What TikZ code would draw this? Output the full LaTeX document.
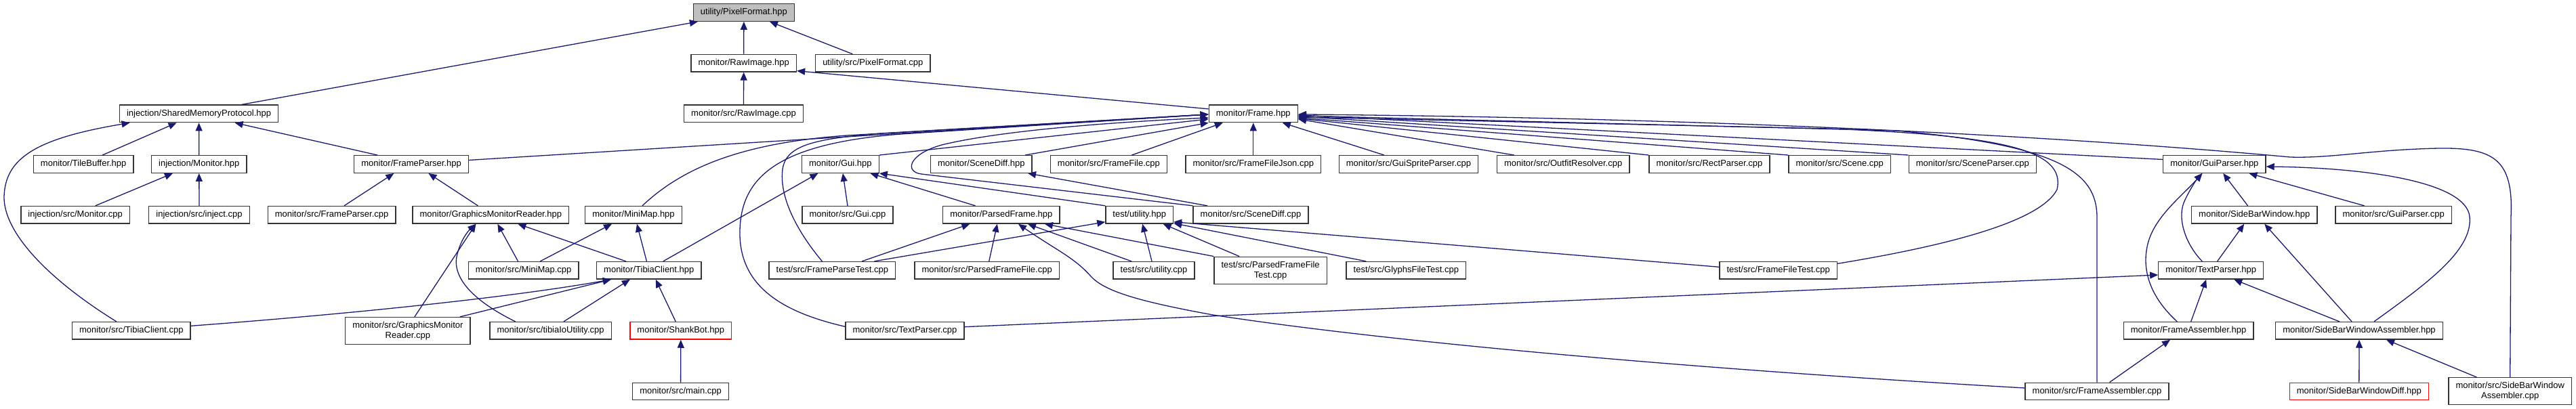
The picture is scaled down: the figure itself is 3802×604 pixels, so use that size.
\documentclass[tikz,border=0pt]{standalone}
\usepackage{fontspec}
\setmainfont{Liberation Sans}
\usetikzlibrary{arrows.meta}
\definecolor{edgeblue}{HTML}{191970}
\definecolor{rootgray}{HTML}{BFBFBF}
\begin{document}
\begin{tikzpicture}[x=1pt,y=-1pt,
  box/.style={draw=black!80, line width=1.3pt, fill=white, minimum height=25.6pt,
    inner xsep=10.6pt, inner ysep=0pt, font=\fontsize{13}{15}\selectfont, align=center},
  tall/.style={box, minimum height=40pt},
  root/.style={box, fill=rootgray},
  trunc/.style={box, draw=red},
  e/.style={draw=edgeblue, line width=1.3pt, -{Triangle[length=12pt,width=10pt]}}]
\useasboundingbox[fill=white] (0,0) rectangle (3802,604);
% row 0-2
\node[root] (pf) at (1097.9,18.5) {utility/PixelFormat.hpp};
\node[box] (raw) at (1097.7,93.2) {monitor/RawImage.hpp};
\node[box] (pfcpp) at (1288.3,93.2) {utility/src/PixelFormat.cpp};
\node[box] (smp) at (293.6,167.9) {injection/SharedMemoryProtocol.hpp};
\node[box] (rawcpp) at (1097.5,167.9) {monitor/src/RawImage.cpp};
\node[box] (frame) at (1849.8,167.9) {monitor/Frame.hpp};
% row 3
\node[box] (tile) at (123.2,242.5) {monitor/TileBuffer.hpp};
\node[box] (imon) at (293.8,242.5) {injection/Monitor.hpp};
\node[box] (fp) at (607.1,242.5) {monitor/FrameParser.hpp};
\node[box] (gui) at (1240.4,242.5) {monitor/Gui.hpp};
\node[box] (sd) at (1448.3,242.5) {monitor/SceneDiff.hpp};
\node[box] (ffcpp) at (1636.4,242.5) {monitor/src/FrameFile.cpp};
\node[box] (ffj) at (1849.8,242.5) {monitor/src/FrameFileJson.cpp};
\node[box] (gsp) at (2079,242.5) {monitor/src/GuiSpriteParser.cpp};
\node[box] (outfit) at (2307.2,242.5) {monitor/src/OutfitResolver.cpp};
\node[box] (rect) at (2523,242.5) {monitor/src/RectParser.cpp};
\node[box] (scene) at (2715.2,242.5) {monitor/src/Scene.cpp};
\node[box] (scenep) at (2911.3,242.5) {monitor/src/SceneParser.cpp};
\node[box] (guip) at (3268.4,242.5) {monitor/GuiParser.hpp};
% row 4
\node[box] (imoncpp) at (111.2,317.3) {injection/src/Monitor.cpp};
\node[box] (inject) at (294,317.3) {injection/src/inject.cpp};
\node[box] (fpcpp) at (489.6,317.3) {monitor/src/FrameParser.cpp};
\node[box] (gmr) at (724.4,317.3) {monitor/GraphicsMonitorReader.hpp};
\node[box] (mm) at (935,317.3) {monitor/MiniMap.hpp};
\node[box] (guicpp) at (1251,317.3) {monitor/src/Gui.cpp};
\node[box] (pfr) at (1477.9,317.3) {monitor/ParsedFrame.hpp};
\node[box] (tu) at (1681.7,317.3) {test/utility.hpp};
\node[box] (sdcpp) at (1846,317.3) {monitor/src/SceneDiff.cpp};
\node[box] (sbw) at (3327.2,317.3) {monitor/SideBarWindow.hpp};
\node[box] (guipcpp) at (3532.6,317.3) {monitor/src/GuiParser.cpp};
% row 5
\node[box] (mmcpp) at (772.6,399.3) {monitor/src/MiniMap.cpp};
\node[box] (tc) at (957.8,399.3) {monitor/TibiaClient.hpp};
\node[box] (fpt) at (1228.4,399.3) {test/src/FrameParseTest.cpp};
\node[box] (pffcpp) at (1456.7,399.3) {monitor/src/ParsedFrameFile.cpp};
\node[box] (tucpp) at (1703,399.3) {test/src/utility.cpp};
\node[tall] (pfft) at (1875.1,399.2) {test/src/ParsedFrameFile\\Test.cpp};
\node[box] (gft) at (2075.3,399.3) {test/src/GlyphsFileTest.cpp};
\node[box] (fft) at (2624.7,399.3) {test/src/FrameFileTest.cpp};
\node[box] (tp) at (3263.2,399.3) {monitor/TextParser.hpp};
% row 6
\node[box] (tccpp) at (193.8,488.3) {monitor/src/TibiaClient.cpp};
\node[tall] (gmrcpp) at (601.9,488.5) {monitor/src/GraphicsMonitor\\Reader.cpp};
\node[box] (tio) at (812.6,488.3) {monitor/src/tibiaIoUtility.cpp};
\node[trunc] (sb) at (1004.8,488.3) {monitor/ShankBot.hpp};
\node[box] (tpcpp) at (1335.5,488.3) {monitor/src/TextParser.cpp};
\node[box] (fa) at (3230,488.3) {monitor/FrameAssembler.hpp};
\node[box] (sbwa) at (3482,488.3) {monitor/SideBarWindowAssembler.hpp};
% row 7
\node[box] (main) at (1004.6,578) {monitor/src/main.cpp};
\node[box] (facpp) at (3095,578) {monitor/src/FrameAssembler.cpp};
\node[trunc] (sbwd) at (3481.8,578) {monitor/SideBarWindowDiff.hpp};
\node[tall] (sbwacpp) at (3704.7,577.7) {monitor/src/SideBarWindow\\Assembler.cpp};

% edges
\draw[e] ([xshift=63pt]smp.north) -- ([xshift=-68pt]pf.south);
\draw[e] (raw.north) -- (pf.south);
\draw[e] ([xshift=-30pt]pfcpp.north) -- ([xshift=38pt]pf.south);
\draw[e] (rawcpp.north) -- (raw.south);
\draw[e] ([yshift=7pt]frame.west) -- ([yshift=2pt]raw.south east);
\draw[e] ([xshift=28pt]tile.north) -- ([xshift=-33pt]smp.south);
\draw[e] (imon.north) -- (smp.south);
\draw[e] ([xshift=-50pt]fp.north) -- ([xshift=53pt]smp.south);
\draw[e] ([xshift=-22pt]tccpp.north) .. controls (75,415) and (5,345) .. (6,290)
  .. controls (8,235) and (50,205) .. ([xshift=-102pt]smp.south);
\draw[e] ([xshift=29.6pt]imoncpp.north) -- ([xshift=-38.8pt]imon.south);
\draw[e] (inject.north) -- (imon.south);
\draw[e] ([xshift=18.4pt]fpcpp.north) -- ([xshift=-25.7pt]fp.south);
\draw[e] ([xshift=-19pt]gmr.north) -- ([xshift=25.3pt]fp.south);
\draw[e] ([yshift=6pt]fp.east) -- ([yshift=-1pt]frame.west);
\draw[e] ([xshift=13pt]mm.north) .. controls (1000,255) and (1080,212) .. (1250,200) -- ([yshift=-1pt]frame.west);
\draw[e] ([yshift=6pt]tpcpp.west) .. controls (1150,460) and (1090,420) .. (1092,340)
  .. controls (1094,260) and (1150,212) .. (1330,198) -- ([yshift=-1pt]frame.west);
\draw[e] ([xshift=-15pt]fpt.north) .. controls (1175,340) and (1150,290) .. (1155,250)
  .. controls (1160,215) and (1200,205) .. (1300,197) -- ([yshift=-1pt]frame.west);
\draw[e] (gui.north east) -- ([yshift=-8pt]frame.west);
\draw[e] (sdcpp.north west) -- (1360,257) .. controls (1335,254) and (1340,228) .. (1390,214)
  .. controls (1480,192) and (1650,180) .. ([yshift=-6pt]frame.west);
\draw[e] ([xshift=64.7pt]sd.north) -- (frame.south west);
\draw[e] ([xshift=34pt]ffcpp.north) -- ([xshift=-45pt]frame.south);
\draw[e] (ffj.north) -- (frame.south);
\draw[e] ([xshift=-36pt]gsp.north) -- ([xshift=43pt]frame.south);
\draw[e] ([xshift=-72.4pt]outfit.north) -- ([yshift=-8pt]frame.east);
\draw[e] (rect.north west) -- ([yshift=-7pt]frame.east);
\draw[e] (scene.north west) -- ([yshift=-6pt]frame.east);
\draw[e] (scenep.north west) -- ([yshift=-4pt]frame.east);
\draw[e] ([yshift=7pt]guip.west) -- ([yshift=-2pt]frame.east);
\draw[e] ([yshift=10pt]fft.east) .. controls (2860,365) and (3010,330) .. (3036,280)
  .. controls (3050,220) and (2950,200) .. (2700,190) -- ([yshift=-5pt]frame.east);
\draw[e] (facpp.north) -- ++(0,-245) .. controls (3094,255) and (3040,215) .. (2800,193) -- ([yshift=-3pt]frame.east);
\draw[e] (sbwacpp.north) -- (3706,320) .. controls (3710,235) and (3680,218) .. (3600,219)
  .. controls (3500,221) and (3440,234) .. (3380,232)
  .. controls (3100,206) and (2600,175) .. ([yshift=-1pt]frame.east);
\draw[e] (guicpp.north) -- ([xshift=3.6pt]gui.south);
\draw[e] ([xshift=21pt]tc.north) -- ([xshift=-33pt]gui.south);
\draw[e] ([xshift=-38.4pt]pfr.north) -- ([xshift=44pt]gui.south);
\draw[e] (tu.north west) -- (gui.south east);
\draw[e] ([xshift=-64pt]sdcpp.north) -- ([xshift=68.7pt]sd.south);
\draw[e] ([xshift=43.8pt]fpt.north) -- ([xshift=-46.5pt]pfr.south);
\draw[e] ([xshift=62pt]fpt.north) -- ([yshift=3pt]tu.south west);
\draw[e] ([xshift=3pt]pffcpp.north) -- ([xshift=-6pt]pfr.south);
\draw[e] ([xshift=-33pt]tucpp.north) -- ([xshift=39pt]pfr.south);
\draw[e] (pfft.north west) -- ([xshift=64pt]pfr.south);
\draw[e] ([yshift=5pt]facpp.west) .. controls (2500,545) and (2050,505) .. (1790,465)
  .. controls (1680,445) and (1630,430) .. (1610,408)
  .. controls (1585,380) and (1560,370) .. ([xshift=25pt]pfr.south);
\draw[e] ([xshift=-3pt]tucpp.north) -- ([xshift=4.5pt]tu.south);
\draw[e] ([xshift=-46pt]pfft.north) -- ([xshift=35pt]tu.south);
\draw[e] ([xshift=-59pt]gft.north) -- ([yshift=1pt]tu.south east);
\draw[e] ([yshift=5pt]fft.west) -- ([yshift=3pt]tu.south east);
\draw[e] ([xshift=-8pt]mmcpp.north) -- ([xshift=10pt]gmr.south);
\draw[e] ([xshift=24.7pt]mmcpp.north) -- ([xshift=-32pt]mm.south);
\draw[e] ([xshift=-34pt]tc.north) -- ([xshift=40pt]gmr.south);
\draw[e] ([xshift=-3.4pt]tc.north) -- ([xshift=5pt]mm.south);
\draw[e] ([xshift=10pt]gmrcpp.north) -- ([xshift=-22pt]gmr.south);
\draw[e] ([xshift=-52pt]tio.north) .. controls (700,445) and (665,410) .. (675,375)
  .. controls (680,355) and (690,342) .. ([xshift=-22pt]gmr.south);
\draw[e] ([yshift=7pt]tccpp.east) .. controls (500,465) and (750,440) .. ([xshift=-56pt]tc.south);
\draw[e] ([xshift=77pt]gmrcpp.north) -- ([xshift=-56pt]tc.south);
\draw[e] ([xshift=19.4pt]tio.north) -- ([xshift=-28pt]tc.south);
\draw[e] ([xshift=-7.6pt]sb.north) -- ([xshift=10pt]tc.south);
\draw[e] (main.north) -- (sb.south);
\draw[e] ([yshift=5.6pt]tpcpp.east) -- ([yshift=-6.7pt]tp.west);
\draw[e] ([xshift=18.6pt]facpp.north) -- ([xshift=-27pt]fa.south);
\draw[e] ([xshift=3.7pt]fa.north) -- ([xshift=-7pt]tp.south);
\draw[e] ([xshift=-16.8pt]fa.north) .. controls (3175,440) and (3160,400) .. (3170,360)
  .. controls (3180,320) and (3220,290) .. ([xshift=-18pt]guip.south);
\draw[e] ([xshift=-13pt]tp.north) .. controls (3225,360) and (3212,320) .. (3225,295)
  .. controls (3232,280) and (3242,265) .. ([xshift=-18pt]guip.south);
\draw[e] ([xshift=-9.6pt]sbw.north) -- ([xshift=12.8pt]guip.south);
\draw[e] ([xshift=-43pt]guipcpp.north) -- ([xshift=51pt]guip.south);
\draw[e] ([xshift=22pt]sbwa.north) .. controls (3580,420) and (3650,370) .. (3645,320)
  .. controls (3640,270) and (3500,248) .. ([yshift=-3.5pt]guip.east);
\draw[e] ([xshift=9.4pt]tp.north) -- ([xshift=-15pt]sbw.south);
\draw[e] ([xshift=-11pt]sbwa.north) -- ([xshift=15pt]sbw.south);
\draw[e] ([xshift=-29.3pt]sbwa.north) -- ([xshift=34pt]tp.south);
\draw[e] (sbwd.north) -- (sbwa.south);
\draw[e] ([xshift=-49.3pt]sbwacpp.north) -- ([xshift=40pt]sbwa.south);
\end{tikzpicture}
\end{document}
